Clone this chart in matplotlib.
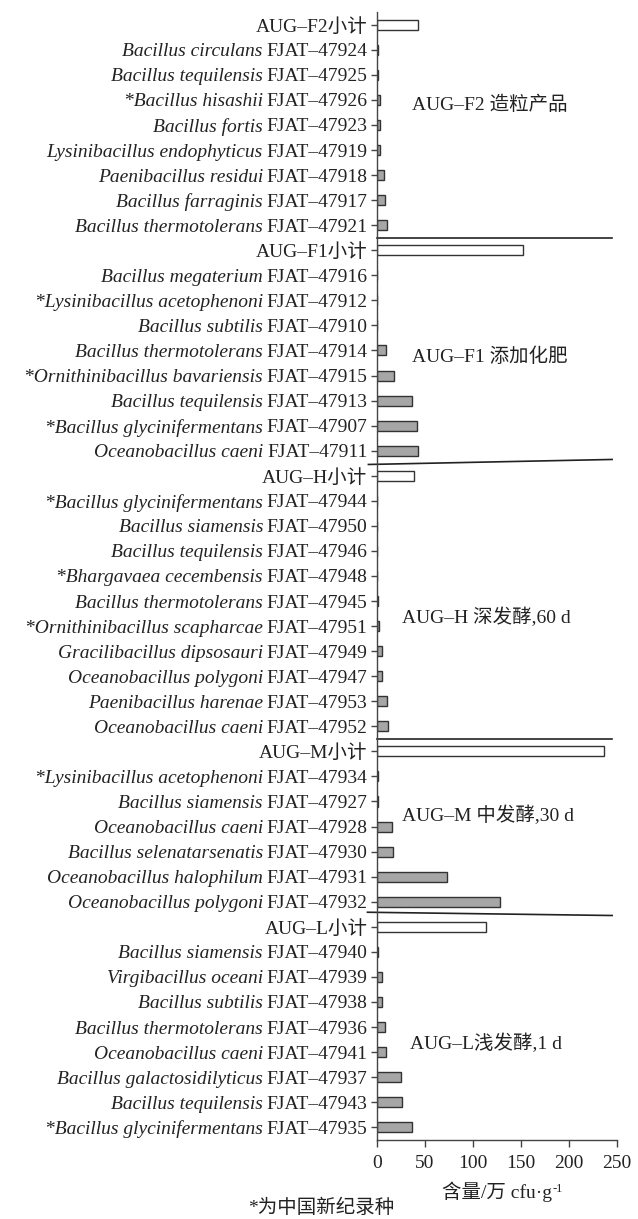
import matplotlib.pyplot as plt
import numpy as np

plt.rcParams["font.family"] = ["Liberation Serif", "Noto Sans CJK SC"]

# groups, top to bottom as in the figure
group_titles = ["AUG–F2 造粒产品", "AUG–F1 添加化肥", "AUG–H 深发酵,60 d",
                "AUG–M 中发酵,30 d", "AUG–L浅发酵,1 d"]
total_labels = ["AUG–F2小计", "AUG–F1小计", "AUG–H小计", "AUG–M小计", "AUG–L小计"]
totals = [43, 152, 38, 237, 114]

f2_names = ["Bacillus circulans", "Bacillus tequilensis", "*Bacillus hisashii",
            "Bacillus fortis", "Lysinibacillus endophyticus", "Paenibacillus residui",
            "Bacillus farraginis", "Bacillus thermotolerans"]
f2_strains = ["FJAT–47924", "FJAT–47925", "FJAT–47926", "FJAT–47923",
              "FJAT–47919", "FJAT–47918", "FJAT–47917", "FJAT–47921"]
f2_values = [0.6, 1.5, 3, 3.5, 3, 7.5, 8.5, 10.5]

f1_names = ["Bacillus megaterium", "*Lysinibacillus acetophenoni", "Bacillus subtilis",
            "Bacillus thermotolerans", "*Ornithinibacillus bavariensis",
            "Bacillus tequilensis", "*Bacillus glycinifermentans", "Oceanobacillus caeni"]
f1_strains = ["FJAT–47916", "FJAT–47912", "FJAT–47910", "FJAT–47914",
              "FJAT–47915", "FJAT–47913", "FJAT–47907", "FJAT–47911"]
f1_values = [0.4, 0.4, 0.4, 9.5, 18, 36, 42, 43]

h_names = ["*Bacillus glycinifermentans", "Bacillus siamensis", "Bacillus tequilensis",
           "*Bhargavaea cecembensis", "Bacillus thermotolerans",
           "*Ornithinibacillus scapharcae", "Gracilibacillus dipsosauri",
           "Oceanobacillus polygoni", "Paenibacillus harenae", "Oceanobacillus caeni"]
h_strains = ["FJAT–47944", "FJAT–47950", "FJAT–47946", "FJAT–47948", "FJAT–47945",
             "FJAT–47951", "FJAT–47949", "FJAT–47947", "FJAT–47953", "FJAT–47952"]
h_values = [0.4, 0.4, 0.4, 0.4, 0.5, 2, 5.5, 5, 10.5, 11]

m_names = ["*Lysinibacillus acetophenoni", "Bacillus siamensis", "Oceanobacillus caeni",
           "Bacillus selenatarsenatis", "Oceanobacillus halophilum",
           "Oceanobacillus polygoni"]
m_strains = ["FJAT–47934", "FJAT–47927", "FJAT–47928", "FJAT–47930",
             "FJAT–47931", "FJAT–47932"]
m_values = [1.5, 1.5, 16, 17, 73, 128]

l_names = ["Bacillus siamensis", "Virgibacillus oceani", "Bacillus subtilis",
           "Bacillus thermotolerans", "Oceanobacillus caeni",
           "Bacillus galactosidilyticus", "Bacillus tequilensis",
           "*Bacillus glycinifermentans"]
l_strains = ["FJAT–47940", "FJAT–47939", "FJAT–47938", "FJAT–47936",
             "FJAT–47941", "FJAT–47937", "FJAT–47943", "FJAT–47935"]
l_values = [1, 5, 5.5, 8, 9, 24.5, 25.5, 36.5]

groups = [(f2_names, f2_strains, f2_values), (f1_names, f1_strains, f1_values),
          (h_names, h_strains, h_values), (m_names, m_strains, m_values),
          (l_names, l_strains, l_values)]

# flatten to rows: subtotal row first, then the strains of each group
names, tick_labels, values, is_total = [], [], [], []
for (g_names, g_strains, g_values), t_label, t_value in zip(groups, total_labels, totals):
    names.append(None)
    tick_labels.append(t_label)
    values.append(t_value)
    is_total.append(True)
    for n, s, v in zip(g_names, g_strains, g_values):
        names.append(n)
        tick_labels.append(s)
        values.append(v)
        is_total.append(False)

rows = np.arange(len(values))
colors = ["white" if t else "#a6a6a6" for t in is_total]

fig = plt.figure(figsize=(6.38, 12.19), dpi=100)
ax = fig.add_axes([0.591, 0.065, 0.376, 0.925])

ax.barh(rows, values, height=0.4, color=colors, edgecolor="#333333", linewidth=1.0)

ax.set_ylim(len(values) - 0.5, -0.5)
ax.set_xlim(0, 250)
ax.set_xticks([0, 50, 100, 150, 200, 250])
ax.set_yticks(rows)
ax.set_yticklabels(tick_labels)

ax.spines["top"].set_visible(False)
ax.spines["right"].set_visible(False)
for side in ["left", "bottom"]:
    ax.spines[side].set_color("#444444")
    ax.spines[side].set_linewidth(1.0)
ax.tick_params(axis="y", length=4, width=1.0, color="#444444", pad=3,
               labelsize=14, labelcolor="#222222")
ax.tick_params(axis="x", length=5, width=1.0, color="#444444", pad=6,
               labelsize=14, labelcolor="#222222")

# italic species names placed left of the strain numbers
for label, name in zip(ax.get_yticklabels(), names):
    if name is None:
        continue
    ax.annotate(name, xy=(0, 0.5), xycoords=label, xytext=(-2.5, 0),
                textcoords="offset points", ha="right", va="center",
                fontsize=14, fontstyle="italic", color="#222222")

# separator lines between groups
sep_lines = [((0, 245), (8.5, 8.5)), ((-9, 245), (17.55, 17.35)),
             ((0, 245), (28.5, 28.5)), ((-10, 245), (35.42, 35.55))]
for xs, ys in sep_lines:
    ax.plot(xs, ys, color="#222222", linewidth=1.2, clip_on=False)

# group titles
title_pos = [(36.5, 3.2), (36.5, 13.25), (26.5, 23.65), (26.5, 31.55), (34, 40.65)]
for title, (tx, ty) in zip(group_titles, title_pos):
    ax.text(tx, ty, title, fontsize=14, va="center", ha="left", color="#222222")

# x label with a small superscript "-1"
xlab = ax.set_xlabel("含量/万 cfu·g", fontsize=14, labelpad=7, color="#222222")
ax.annotate("-1", xy=(1, 0.95), xycoords=xlab, xytext=(0.5, 0),
            textcoords="offset points", ha="left", va="top",
            fontsize=9, color="#222222")

fig.text(0.503, 0.009, "*为中国新纪录种", fontsize=14, ha="center", va="center",
         color="#222222")

fig.savefig("out.png", dpi=100)
